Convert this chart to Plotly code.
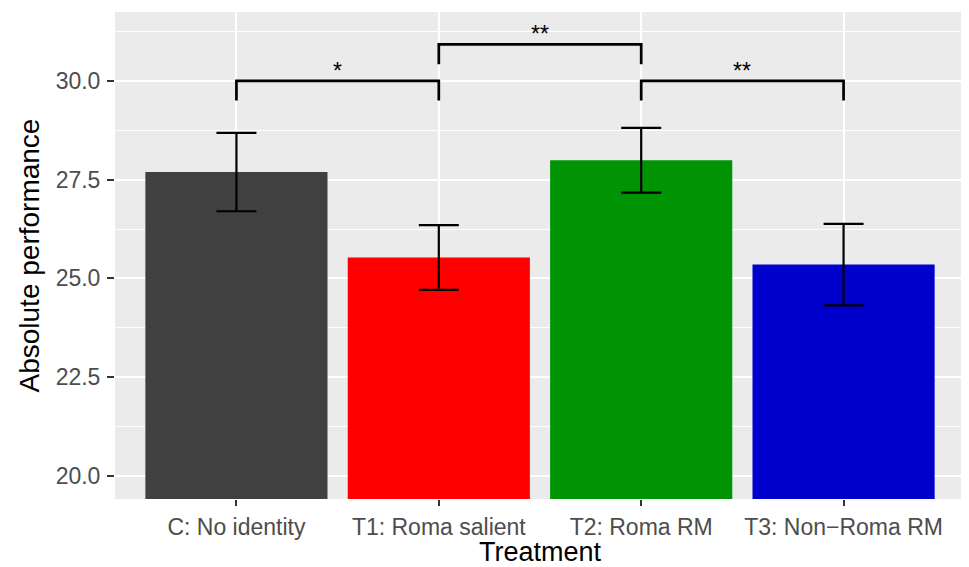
import plotly.graph_objects as go

categories = ["C: No identity", "T1: Roma salient", "T2: Roma RM", "T3: Non\u2212Roma RM"]
means = [27.69, 25.53, 27.99, 25.35]
errors = [0.99, 0.82, 0.82, 1.03]
bar_colors = ["#404040", "#FF0000", "#009404", "#0000CC"]

bracket_left = [0, 1, 2]
bracket_right = [1, 2, 3]
bracket_y = [30.0, 30.92, 30.0]
bracket_tip = [29.5, 30.42, 29.5]
bracket_labels = ["*", "**", "**"]

y_ticks = [20.0, 22.5, 25.0, 27.5, 30.0]
y_tick_labels = ["20.0", "22.5", "25.0", "27.5", "30.0"]
y_minor = [21.25, 23.75, 26.25, 28.75, 31.25]
y_range = [19.42, 31.74]

FONT = "Liberation Sans, Arial, sans-serif"

fig = go.Figure()
fig.add_trace(go.Bar(
    x=categories, y=means, width=0.9,
    marker=dict(color=bar_colors, line=dict(width=0)),
    error_y=dict(type="data", array=errors, color="black", thickness=2.2, width=20),
    showlegend=False, hoverinfo="x+y",
))

for l, r, yb, yt, lab in zip(bracket_left, bracket_right, bracket_y, bracket_tip, bracket_labels):
    fig.add_trace(go.Scatter(
        x=[categories[l], categories[l], categories[r], categories[r]],
        y=[yt, yb, yb, yt],
        mode="lines", line=dict(color="black", width=2.7),
        showlegend=False, hoverinfo="skip",
    ))
    fig.add_annotation(
        x=(l + r) / 2, y=yb, text=lab, showarrow=False,
        xref="x", yref="y", yanchor="bottom", yshift=-5,
        font=dict(family=FONT, size=23, color="black"),
    )

# axis titles
fig.add_annotation(
    x=0.5, y=0, xref="paper", yref="paper", xanchor="center", yanchor="top",
    yshift=-37, text="Treatment", showarrow=False, borderpad=0,
    font=dict(family=FONT, size=27, color="black"),
)
fig.add_annotation(
    x=0, y=0.5, xref="paper", yref="paper", xanchor="center", yanchor="middle",
    xshift=-86, text="Absolute performance", textangle=-90, showarrow=False, borderpad=0,
    font=dict(family=FONT, size=28, color="black"),
)

# page body adds an 8px offset, so the figure is 8px smaller on each axis
fig.update_layout(
    width=961, height=559,
    margin=dict(l=107, r=4, t=4, b=68, autoexpand=False),
    paper_bgcolor="white", plot_bgcolor="#EBEBEB",
    font=dict(family=FONT),
    bargap=0.1,
)
fig.update_xaxes(
    type="category", range=[-0.6, 3.6], automargin=False,
    showgrid=True, gridcolor="white", gridwidth=2,
    ticks="outside", ticklen=6, tickwidth=2, tickcolor="#333333",
    ticklabelstandoff=1,
    tickfont=dict(family=FONT, size=23, color="#4D4D4D"),
    zeroline=False, showline=False,
)
fig.update_yaxes(
    range=y_range, tickmode="array", tickvals=y_ticks, ticktext=y_tick_labels,
    automargin=False, ticklabelstandoff=2,
    showgrid=True, gridcolor="white", gridwidth=2,
    minor=dict(tickmode="array", tickvals=y_minor, showgrid=True, gridcolor="white", gridwidth=1.1, ticks=""),
    ticks="outside", ticklen=7, tickwidth=2, tickcolor="#333333",
    tickfont=dict(family=FONT, size=23, color="#4D4D4D"),
    zeroline=False, showline=False,
)

fig.write_html("out.html")
